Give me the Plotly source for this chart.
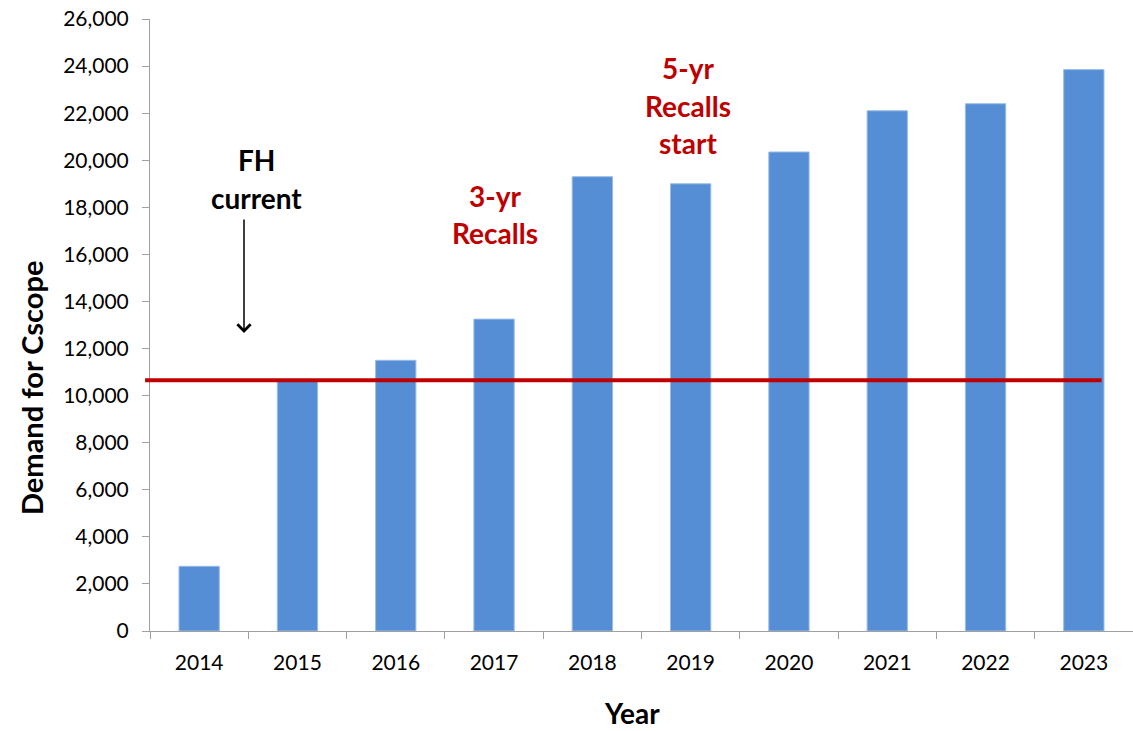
import plotly.graph_objects as go

years = ["2014", "2015", "2016", "2017", "2018", "2019", "2020", "2021", "2022", "2023"]
demand = [2750, 10650, 11500, 13250, 19300, 19000, 20350, 22100, 22400, 23850]
capacity = 10650

x_title = "Year"
y_title = "Demand for Cscope"
black_lines = ["FH", "current"]
red_lines_3yr = ["3-yr", "Recalls"]
red_lines_5yr = ["5-yr", "Recalls", "start"]

FONT = "Lato"
BLUE = "#558ED5"
RED = "#C00000"

fig = go.Figure()
fig.add_trace(go.Bar(
    x=years, y=demand,
    marker=dict(color=BLUE, line=dict(color="#9BBCE6", width=1)),
    width=0.41, showlegend=False,
))

fig.add_shape(type="line", xref="paper", yref="y",
              x0=-0.005, x1=0.968, y0=capacity, y1=capacity,
              line=dict(color=RED, width=4), layer="above")

def px2paper(px, py):
    return (px - 150) / 983, (631 - py) / 612

ann = []
for txt, py in zip(black_lines, [160, 198]):
    x, y = px2paper(256, py)
    ann.append(dict(text="<b>" + txt + "</b>", x=x, y=y, xref="paper", yref="paper",
                    showarrow=False, font=dict(family=FONT, size=28, color="black"),
                    xanchor="center", yanchor="middle"))
for txt, py in zip(red_lines_3yr, [196, 233]):
    x, y = px2paper(495, py)
    ann.append(dict(text="<b>" + txt + "</b>", x=x, y=y, xref="paper", yref="paper",
                    showarrow=False, font=dict(family=FONT, size=28, color=RED),
                    xanchor="center", yanchor="middle"))
for txt, py in zip(red_lines_5yr, [68, 106, 143]):
    x, y = px2paper(688, py)
    ann.append(dict(text="<b>" + txt + "</b>", x=x, y=y, xref="paper", yref="paper",
                    showarrow=False, font=dict(family=FONT, size=28, color=RED),
                    xanchor="center", yanchor="middle"))
hx, hy = px2paper(244, 333)
ann.append(dict(text="", x=hx, y=hy, xref="paper", yref="paper", showarrow=True,
                ax=0, ay=-115, arrowhead=4, arrowsize=1.7, arrowwidth=1.5,
                arrowcolor="black", standoff=0))
# axis titles
tx, ty = px2paper(632, 713)
ann.append(dict(text="<b>" + x_title + "</b>", x=tx, y=ty, xref="paper", yref="paper",
                showarrow=False, font=dict(family=FONT, size=28, color="black"),
                xanchor="center", yanchor="middle", borderpad=0))
tx, ty = px2paper(31, 388)
ann.append(dict(text="<b>" + y_title + "</b>", x=tx, y=ty, xref="paper", yref="paper",
                showarrow=False, textangle=-90, font=dict(family=FONT, size=29, color="black"),
                xanchor="center", yanchor="middle"))

fig.update_layout(
    width=1133, height=731,
    margin=dict(l=150, r=0, t=19, b=100),
    plot_bgcolor="white", paper_bgcolor="white",
    bargap=0.59,
    annotations=ann,
    font=dict(family=FONT, color="black"),
)
fig.update_xaxes(
    type="category", showgrid=False, showline=True, linecolor="#A0A0A0", linewidth=1,
    ticks="outside", tickson="boundaries", ticklen=7, tickcolor="#A0A0A0",
    tickfont=dict(family=FONT, size=21, color="black"), ticklabelstandoff=13,
)
fig.update_yaxes(
    range=[0, 26000], dtick=2000, tickformat=",", showgrid=False, zeroline=False,
    showline=True, linecolor="#A0A0A0", linewidth=1,
    ticks="outside", ticklen=7, tickcolor="#A0A0A0", ticklabeloverflow="allow",
    tickfont=dict(family=FONT, size=21, color="black"), ticklabelstandoff=9,
)

fig.write_html("out.html", config={"displayModeBar": False},
               post_script="document.body.style.margin='0px';")
